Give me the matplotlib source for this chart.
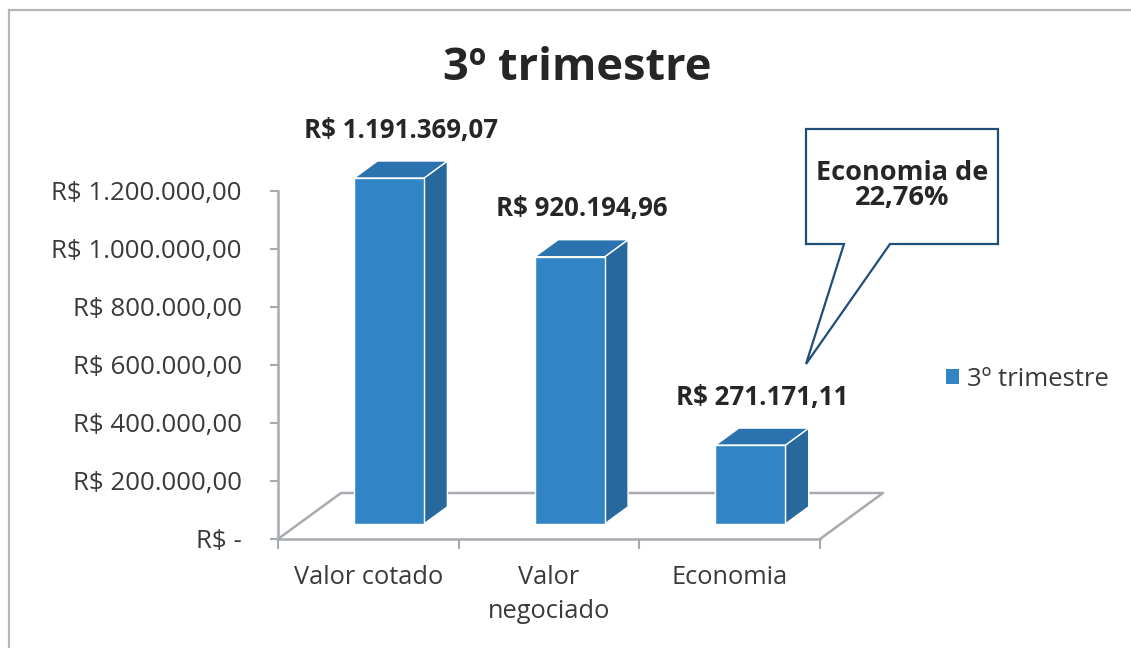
import matplotlib
matplotlib.use("Agg")
import matplotlib.pyplot as plt
from matplotlib.patches import Polygon, Rectangle
from matplotlib.lines import Line2D
import numpy as np

plt.rcParams['font.family'] = ['Open Sans', 'DejaVu Sans']

# ---- data ----
categories = ["Valor cotado", "Valor\nnegociado", "Economia"]
values = [1191369.07, 920194.96, 271171.11]
value_labels = ["R$ 1.191.369,07", "R$ 920.194,96", "R$ 271.171,11"]
yticks = [0, 200000, 400000, 600000, 800000, 1000000, 1200000]
ytick_labels = ["R$ -", "R$ 200.000,00", "R$ 400.000,00", "R$ 600.000,00",
                "R$ 800.000,00", "R$ 1.000.000,00", "R$ 1.200.000,00"]
title = "3º trimestre"
series_name = "3º trimestre"
callout_text = "Economia de\n22,76%"

# ---- style ----
W, H = 1131, 648
DPI = 100
front_c = "#3185C5"
side_c = "#27699D"
top_c = "#2B73AE"
grid_c = "#A7ABB0"
text_c = "#262626"

fig = plt.figure(figsize=(W / DPI, H / DPI), dpi=DPI)
fig.patch.set_facecolor("white")

def fx(px):
    return px / W

def fy(py):
    return 1 - py / H

# outer border (top and left only visible)
fig.add_artist(Line2D([fx(9), fx(W)], [fy(10), fy(10)], color="#B4B8BC", lw=1.6, transform=fig.transFigure))
fig.add_artist(Line2D([fx(9), fx(9)], [fy(10), fy(H)], color="#B4B8BC", lw=1.6, transform=fig.transFigure))

ax_left, ax_right = 278, 820
ax_top, ax_bot = 190.7, 539
ax = fig.add_axes([fx(ax_left), fy(ax_bot), (ax_right - ax_left) / W, (ax_bot - ax_top) / H])
ax.set_xlim(-0.5, len(categories) - 0.5)
ax.set_ylim(0, 1200000)
ax.patch.set_alpha(0)

for s in ["top", "right"]:
    ax.spines[s].set_visible(False)
ax.spines["left"].set_color(grid_c)
ax.spines["left"].set_linewidth(1.8)
ax.spines["bottom"].set_color(grid_c)
ax.spines["bottom"].set_linewidth(1.8)

ax.set_yticks(yticks)
ax.set_yticklabels(ytick_labels)
ax.tick_params(axis="y", length=6, width=1.5, color=grid_c, pad=20,
               labelsize=18.6, labelcolor="#3A3A3A")

n = len(categories)
ax.set_xticks(np.arange(n + 1) - 0.5)
ax.set_xticklabels([""] * (n + 1))
ax.tick_params(axis="x", which="major", length=7, width=1.5, color=grid_c)
ax.set_xticks(np.arange(n), minor=True)
ax.set_xticklabels(categories, minor=True)
ax.tick_params(axis="x", which="minor", length=0, pad=19, labelsize=18.3,
               labelcolor="#3A3A3A")
for lab in ax.get_xticklabels(minor=True):
    lab.set_linespacing(1.45)
    lab.set_verticalalignment("top")

fig.canvas.draw()

# depth direction in pixels (x right, y up)
FLOOR_DX, FLOOR_DY = 63, 46
BAR_D0, BAR_D1 = 0.33, 0.70
bar_w = 0.387

def to_disp(x, y, depth):
    px, py = ax.transData.transform((x, y))
    return (px + depth * FLOOR_DX, py + depth * FLOOR_DY)

def poly(points, color, z):
    p = Polygon(points, closed=True, facecolor=color, edgecolor="white",
                lw=1.0, transform=None, zorder=z, clip_on=False)
    fig.add_artist(p)

# floor back lines
x0, x1 = -0.5, n - 0.5
floor = [to_disp(x0, 0, 0), to_disp(x0, 0, 1), to_disp(x1, 0, 1), to_disp(x1, 0, 0)]
fig.add_artist(Line2D([p[0] for p in floor], [p[1] for p in floor], color=grid_c,
                      lw=1.8, transform=None, zorder=1))

# bars
for i, v in enumerate(values):
    l, r = i - bar_w / 2, i + bar_w / 2
    front = [to_disp(l, 0, BAR_D0), to_disp(r, 0, BAR_D0), to_disp(r, v, BAR_D0), to_disp(l, v, BAR_D0)]
    side = [to_disp(r, 0, BAR_D0), to_disp(r, 0, BAR_D1), to_disp(r, v, BAR_D1), to_disp(r, v, BAR_D0)]
    top = [to_disp(l, v, BAR_D0), to_disp(r, v, BAR_D0), to_disp(r, v, BAR_D1), to_disp(l, v, BAR_D1)]
    poly(side, side_c, 3)
    poly(top, top_c, 3)
    poly(front, front_c, 4)
    lx, ly = to_disp(i, v, BAR_D0)
    fig.text((lx + 12) / W, (ly + 48) / H, value_labels[i], ha="center", va="center",
             fontsize=18.6, fontweight="bold", color=text_c)

# title
fig.text(fx(577), fy(68), title, ha="center", va="center", fontsize=32.5,
         fontweight="bold", color=text_c)

# legend
handle = Rectangle((0, 0), 1, 1, facecolor=front_c, edgecolor="none")
leg = fig.legend([handle], [series_name], loc="center left",
                 bbox_to_anchor=(fx(946), fy(379)), frameon=False,
                 fontsize=18.5, handlelength=0.5, handleheight=0.5,
                 handletextpad=0.3, borderpad=0, borderaxespad=0)
for t in leg.get_texts():
    t.set_color("#3A3A3A")

# callout
cl, ct, cr, cb = 806, 129, 998, 244
tail_l, tail_r, tip = 844, 890, (806, 364)
pts = [(cl, ct), (cr, ct), (cr, cb), (tail_r, cb), tip, (tail_l, cb), (cl, cb)]
fig.add_artist(Polygon([(fx(a), fy(b)) for a, b in pts], closed=True, facecolor="white",
                       edgecolor="#1F4E79", lw=1.6, transform=fig.transFigure, zorder=5))
fig.text(fx(902), fy(186), callout_text, ha="center", va="center", fontsize=19.5,
         fontweight="bold", color=text_c, linespacing=0.95, zorder=6)

fig.savefig("out.png", dpi=DPI, facecolor="white")
